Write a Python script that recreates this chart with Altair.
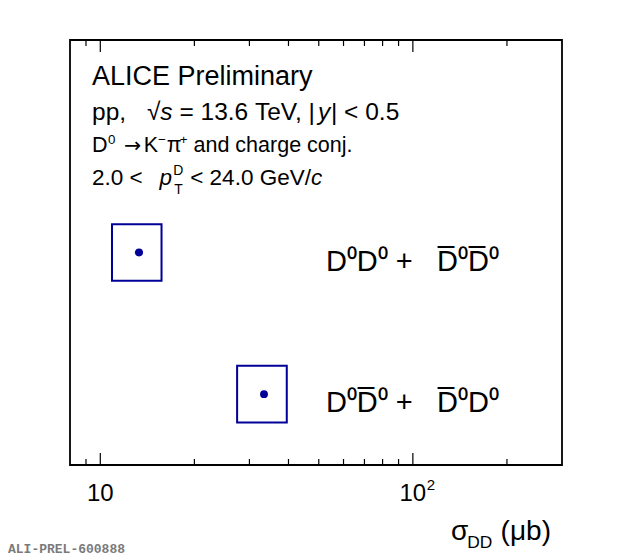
import altair as alt
import pandas as pd

NB = "\u00a0"  # non-breaking space (SVG collapses ordinary runs of spaces)

# ---- data ----
pairs = ["D⁰D⁰ +   D̅⁰D̅⁰", "D⁰D̅⁰ +   D̅⁰D⁰"]
sigma = [13.3, 33.4]          # central values (µb)
stat_lo = [12.9, 32.9]
stat_hi = [13.7, 33.9]
syst_lo = [10.9, 27.4]
syst_hi = [15.7, 39.5]

major_ticks = [10, 100]
major_exp = ["", "2"]
minor_ticks = [9, 20, 30, 40, 50, 60, 70, 80, 90, 200]

# ---- layout ----
W, H = 492, 425
OX, OY = 70, 40          # page position of the plot area's corner
FONT = "Liberation Sans"
BLUE = "#000099"
n = len(pairs)
rows = [n - i - 0.5 for i in range(n)]

df = pd.DataFrame({
    "pair": [p.replace(" ", NB) for p in pairs], "sigma": sigma,
    "stat_lo": stat_lo, "stat_hi": stat_hi,
    "syst_lo": syst_lo, "syst_hi": syst_hi, "row": rows,
})
df["box_lo"] = df["row"] - 0.2
df["box_hi"] = df["row"] + 0.2
df["label_x"] = 52.7

xscale = alt.Scale(type="log", domain=[8, 300], nice=False)
yscale = alt.Scale(domain=[0, n + 1], nice=False)

base = alt.Chart(df)

boxes = base.mark_rect(fill=None, stroke=BLUE, strokeWidth=2).encode(
    x=alt.X("syst_lo:Q", scale=xscale, axis=None),
    x2="syst_hi:Q",
    y=alt.Y("box_lo:Q", scale=yscale, axis=None),
    y2="box_hi:Q",
)
errs = base.mark_rule(color=BLUE, strokeWidth=2).encode(
    x="stat_lo:Q", x2="stat_hi:Q", y="row:Q")
pts = base.mark_point(filled=True, color=BLUE, size=62, opacity=1, shape="circle").encode(
    x="sigma:Q", y="row:Q")
labels = base.mark_text(align="left", baseline="middle", font=FONT, fontSize=29,
                        dy=9, color="black").encode(
    x="label_x:Q", y="row:Q", text="pair:N")

# inward ticks on bottom and top edges
tick_df = pd.DataFrame({"v": major_ticks + minor_ticks,
                        "len": [12] * len(major_ticks) + [6] * len(minor_ticks)})
tk = alt.Chart(tick_df)
bottom_ticks = tk.transform_calculate(yb=f"{H}", yt=f"{H} - datum.len").mark_rule(
    color="black", strokeWidth=1.2).encode(
    x=alt.X("v:Q", scale=xscale), y=alt.Y("yb:Q", scale=None), y2="yt:Q")
top_ticks = tk.transform_calculate(yb="0", yt="datum.len").mark_rule(
    color="black", strokeWidth=1.2).encode(
    x=alt.X("v:Q", scale=xscale), y=alt.Y("yb:Q", scale=None), y2="yt:Q")

# tick labels: "10" mantissa plus superscript exponent
lab_df = pd.DataFrame({"v": major_ticks, "exp": major_exp})
lab = alt.Chart(lab_df)
tick_lab = lab.mark_text(font=FONT, fontSize=24, align="center", baseline="alphabetic",
                         color="black", y=H + 36).encode(
    x=alt.X("v:Q", scale=xscale), text=alt.value("10"))
tick_exp = lab.mark_text(font=FONT, fontSize=15, align="left", baseline="alphabetic",
                         color="black", y=H + 25, dx=14).encode(
    x=alt.X("v:Q", scale=xscale), text="exp:N")

# ---- text helper (Arial / Liberation Sans advance widths, em) ----
WID = {' ': .278, ',': .278, '.': .278, '/': .278, '|': .26, '<': .584, '=': .584,
       '+': .584, '−': .584, 'A': .667, 'C': .722, 'D': .722, 'E': .667, 'G': .778,
       'I': .278, 'K': .667, 'L': .556, 'P': .667, 'T': .611, 'V': .667, 'a': .556,
       'c': .5, 'd': .556, 'e': .556, 'g': .556, 'h': .556, 'i': .222, 'j': .222,
       'l': .222, 'm': .833, 'n': .556, 'o': .556, 'p': .556, 'r': .333, 's': .5,
       'y': .5, '√': .549, '→': .838, 'π': .55}


def width(s, size):
    return sum(WID.get(ch, .556) for ch in s) * size


def txt(s, px, py, size, style="normal", align="left", font=FONT, color="black",
        weight="normal"):
    # px, py are page coordinates of the text anchor / baseline
    return alt.Chart(pd.DataFrame({"t": [s.replace(" ", NB)]})).mark_text(
        x=px - OX, y=py - OY, fontSize=size, font=font, fontStyle=style,
        align=align, baseline="alphabetic", color=color, fontWeight=weight,
    ).encode(text="t:N")


def line(pieces, x0, baseline, size):
    # pieces: (text, relative size, style, dy in em, gap before in em, advance?, font)
    out, x = [], x0
    for text, rel, style, dy, gap, adv, *f in pieces:
        s = size * rel
        lead = len(text) - len(text.lstrip(" "))
        text = text.lstrip(" ")
        x += gap * size + lead * WID[" "] * s
        out.append(txt(text, x, baseline + dy * size, s, style=style,
                       font=f[0] if f else FONT))
        if adv:
            x += width(text, s)
    return out


header = []
header += line([("ALICE Preliminary", 1, "normal", 0, 0, True)], 92, 85, 27)
header += line([
    ("pp,", 1, "normal", 0, 0, True),
    ("√", 1, "normal", 0, 0.85, True),
    ("s", 1, "italic", 0, 0, True),
    (" = 13.6 TeV, |", 1, "normal", 0, 0.0, True),
    ("y", 1, "italic", 0, -0.08, True),
    ("| < 0.5", 1, "normal", 0, 0.03, True),
], 92, 120, 24.5)
header += line([
    ("D", 1, "normal", 0, 0, True),
    ("0", 0.62, "normal", -0.38, 0.02, True),
    ("→", 0.95, "normal", 0, 0.4, True, "DejaVu Sans"),
    ("K", 1, "normal", 0, 0.12, True),
    ("−", 0.62, "normal", -0.38, 0, True),
    ("π", 1, "normal", 0, 0.04, True),
    ("+", 0.62, "normal", -0.38, 0.06, True),
    (" and charge conj.", 1, "normal", 0, 0, True),
], 92, 152, 21.5)
header += line([
    ("2.0 <", 1, "normal", 0, 0, True),
    ("p", 1, "italic", 0, 0.75, True),
    ("D", 0.62, "normal", -0.45, 0.05, False),
    ("T", 0.62, "normal", 0.42, 0.05, True),
    (" < 24.0 GeV/", 1, "normal", 0, 0.05, True),
    ("c", 1, "italic", 0, 0, True),
], 92, 185, 22.5)

# axis title  sigma_DD (mu b)
header += line([
    ("σ", 1, "normal", 0, 0, True),
    ("DD", 0.62, "normal", 0.3, 0.02, True),
    ("(μb)", 1, "normal", 0, 0.3, True),
], 451, 540, 28)

header.append(txt("ALI-PREL-600888", 8, 553, 13, font="Liberation Mono",
                  color="#7a7a7a", weight="bold"))

chart = alt.layer(boxes, errs, pts, labels, bottom_ticks, top_ticks, tick_lab, tick_exp,
                  *header).properties(
    width=W, height=H,
    background="white",
    autosize=alt.AutoSizeParams(type="none"),
    padding={"left": OX - 8, "top": OY - 8, "right": 50, "bottom": 92},
).configure_view(stroke="black", strokeWidth=1.8)

chart.save("out.html", embed_options={"renderer": "svg", "actions": False})
